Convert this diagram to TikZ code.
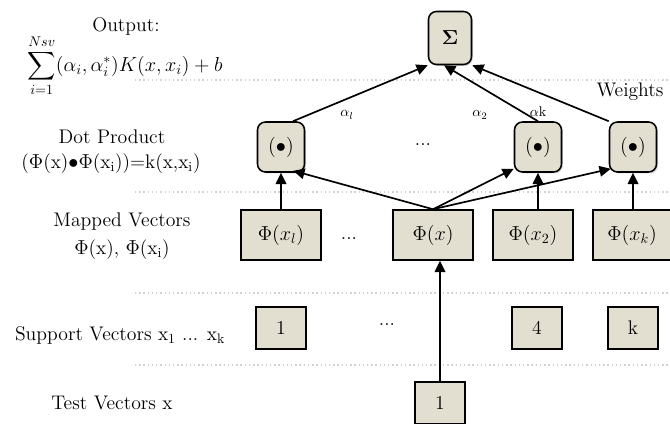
\documentclass[tikz,border=0pt]{standalone}
\usepackage{amssymb}
\usepackage{tikz}
\usepackage{xcolor}
\usetikzlibrary{
    arrows.meta,
    shadows,
    calc
}
\definecolor{boxfill}{RGB}{227,223,208}
\tikzset{
    unitbox/.style={draw, line width=1.1pt, fill=boxfill, rounded corners=0.2cm,
        drop shadow={opacity=0.35, shadow xshift=1pt, shadow yshift=-1pt}},
    mapbox/.style={draw, line width=1.1pt, fill=boxfill, minimum width=2cm, minimum height=1.25cm,
        drop shadow={opacity=0.35, shadow xshift=1pt, shadow yshift=-1pt}},
    vecbox/.style={draw, line width=1.1pt, fill=boxfill, minimum width=1.25cm, minimum height=1.05cm,
        drop shadow={opacity=0.35, shadow xshift=1pt, shadow yshift=-1pt}},
    feed/.style={-{Triangle[length=8pt,width=7.5pt]}, line width=1.2pt},
    layerline/.style={gray!35, dotted, line width=1pt}
}

\begin{document}
\begin{tikzpicture}[font=\fontsize{14}{17}\selectfont]
    \useasboundingbox (0,0) rectangle (16.75,10.6);

    % layer separators
    \draw[layerline] (3.375,8.6) -- (16.75,8.6);
    \draw[layerline] (3.375,5.8) -- (16.75,5.8);
    \draw[layerline] (3.375,3.275) -- (16.75,3.275);
    \draw[layerline] (3.375,1.475) -- (16.75,1.475);

    % left column
    \node (output) at (3.15,9.95) {Output:};
    \node[inner sep=0pt] (formula) at (3.125,8.95) {$\displaystyle\sum_{i=1}^{Nsv}(\alpha_i,\alpha_i^*)K(x,x_i)+b$};
    \node (dotlabel) at (2.8,7.175) {Dot Product};
    \node (dotformula) at (2.775,6.5) {(\(\Phi\)(x)\(\bullet\)\(\Phi\)(x\textsubscript{i}))=k(x,x\textsubscript{i})};
    \node (maplabel) at (3.05,5.05) {Mapped Vectors};
    \node (mapformula) at (3.05,4.35) {\(\Phi\)(x), \(\Phi\)(x\textsubscript{i})};
    \node (suplabel) at (3.0,2.225) {Support Vectors x\textsubscript{1} ... x\textsubscript{k}};
    \node (testlabel) at (2.8,0.525) {Test Vectors x};

    % network
    \node[unitbox, minimum width=1.075cm, minimum height=1.325cm] (sigma) at (11.25,9.65) {$\mathbf{\Sigma}$};
    \node[unitbox, minimum width=1.175cm, minimum height=1.25cm] (dot1) at (7.025,6.925) {$(\bullet)$};
    \node[unitbox, minimum width=1.175cm, minimum height=1.25cm] (dot2) at (13.45,6.925) {$(\bullet)$};
    \node[unitbox, minimum width=1.175cm, minimum height=1.25cm] (dot3) at (15.825,6.925) {$(\bullet)$};
    \node (dotdots) at (10.575,6.975) {...};

    \node[mapbox] (map1) at (7.025,4.725) {$\Phi(x_l)$};
    \node (mapdots) at (8.725,4.625) {...};
    \node[mapbox] (mapx) at (10.825,4.725) {$\Phi(x)$};
    \node[mapbox] (map2) at (13.325,4.725) {$\Phi(x_2)$};
    \node[mapbox, minimum width=1.95cm] (mapk) at (15.8,4.725) {$\Phi(x_k)$};

    \node[vecbox] (sup1) at (7.025,2.4) {1};
    \node (supdots) at (9.675,2.475) {...};
    \node[vecbox] (sup4) at (13.425,2.4) {4};
    \node[vecbox] (supk) at (15.825,2.4) {k};

    \node[vecbox] (test) at (11.0,0.525) {1};

    \node (weights) at (15.75,8.3) {Weights};
    \node[font=\normalsize] (w1) at (8.675,7.725) {$\alpha_l$};
    \node[font=\normalsize] (w2) at (12.0,7.725) {$\alpha_2$};
    \node[font=\normalsize] (wk) at (13.45,7.8) {$\alpha$k};

    % connections
    \draw[feed] ($(dot1.north)+(0.3,0)$) -- (sigma.south west);
    \draw[feed] (dot2.north) -- ($(sigma.south)+(-0.15,0)$);
    \draw[feed] (dot3.north west) -- (sigma.south east);

    \draw[feed] (map1.north) -- (dot1.south);
    \draw[feed] (mapx.north) -- ($(dot1.south east)+(-0.3,0.05)$);
    \draw[feed] (mapx.north) -- ($(dot2.south west)+(0,0.1)$);
    \draw[feed] (mapx.north) -- ($(dot3.south west)+(0.05,0.1)$);
    \draw[feed] (map2.north -| dot2.south) -- (dot2.south);
    \draw[feed] (mapk.north -| dot3.south) -- (dot3.south);

    \draw[feed] (test.north) -- (test.north |- mapx.south);
\end{tikzpicture}
\end{document}
